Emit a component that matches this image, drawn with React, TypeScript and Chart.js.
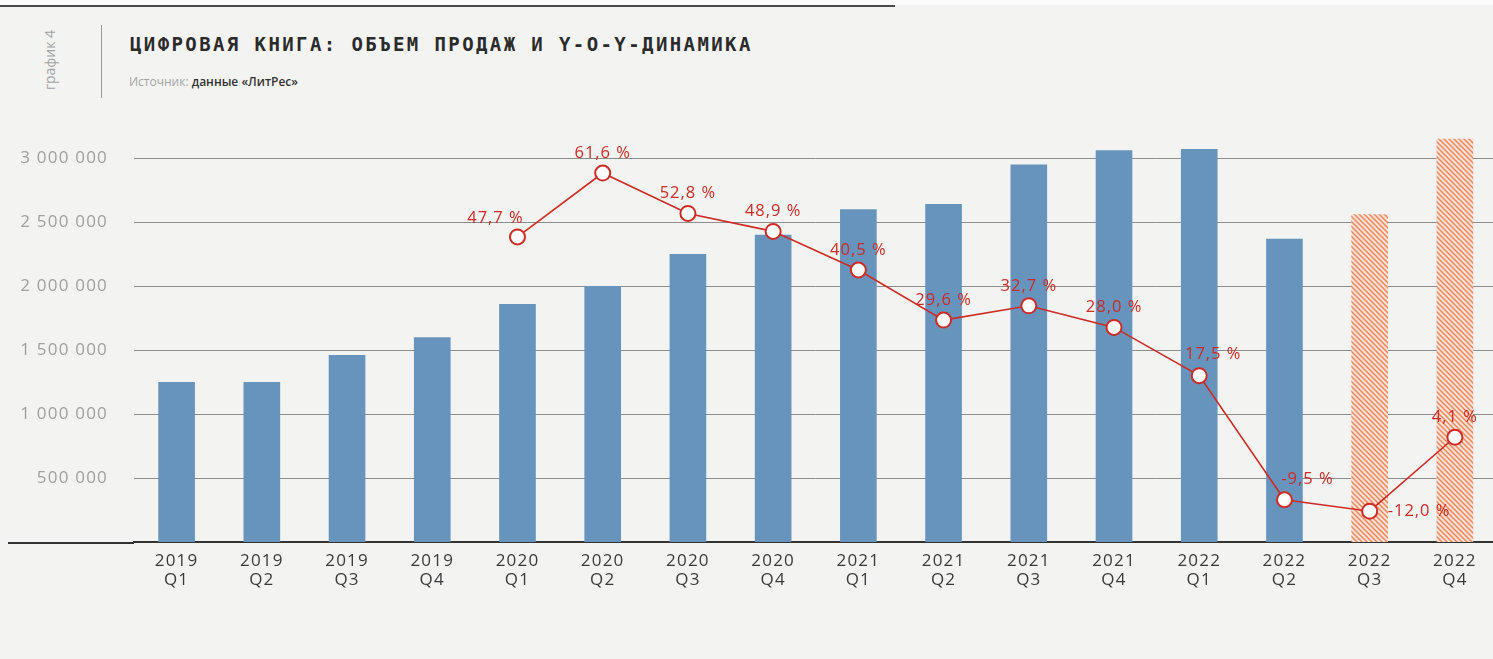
import React, { useEffect, useRef } from 'react';
import { Chart, registerables } from 'chart.js';

Chart.register(...registerables);

// ---- data ----
const years = ['2019', '2019', '2019', '2019', '2020', '2020', '2020', '2020', '2021', '2021', '2021', '2021', '2022', '2022', '2022', '2022'];
const quarters = ['Q1', 'Q2', 'Q3', 'Q4', 'Q1', 'Q2', 'Q3', 'Q4', 'Q1', 'Q2', 'Q3', 'Q4', 'Q1', 'Q2', 'Q3', 'Q4'];
const salesValues = [1250000, 1250000, 1460000, 1600000, 1860000, 2000000, 2250000, 2400000, 2600000, 2640000, 2950000, 3060000, 3070000, 2370000, 2560000, 3150000];
const yoyGrowth: (number | null)[] = [null, null, null, null, 47.7, 61.6, 52.8, 48.9, 40.5, 29.6, 32.7, 28.0, 17.5, -9.5, -12.0, 4.1];
const isForecast = [false, false, false, false, false, false, false, false, false, false, false, false, false, false, true, true];
const yTickValues = [500000, 1000000, 1500000, 2000000, 2500000, 3000000];
const yTickLabels = ['500 000', '1 000 000', '1 500 000', '2 000 000', '2 500 000', '3 000 000'];
const labelPlacement = ['', '', '', '', 'aboveLeft', 'above', 'above', 'above', 'above', 'above', 'above', 'above', 'aboveRight', 'aboveRightFar', 'right', 'above'];

const TITLE = 'ЦИФРОВАЯ КНИГА: ОБЪЕМ ПРОДАЖ И Y-O-Y-ДИНАМИКА';
const SOURCE_LABEL = 'Источник:';
const SOURCE_TEXT = 'данные «ЛитРес»';
const SIDE_LABEL = 'график 4';

const BLUE = '#6694bd';
const RED = '#cd2b24';

function makeHatch(): CanvasPattern | string {
  const c = document.createElement('canvas');
  c.width = 5;
  c.height = 5;
  const g = c.getContext('2d');
  if (!g) return '#f3b195';
  g.fillStyle = '#fae3d6';
  g.fillRect(0, 0, 5, 5);
  g.strokeStyle = '#ec875c';
  g.lineWidth = 1.5;
  g.beginPath();
  g.moveTo(-1, -1);
  g.lineTo(6, 6);
  g.moveTo(-1, 4);
  g.lineTo(1, 6);
  g.moveTo(4, -1);
  g.lineTo(6, 1);
  g.stroke();
  return g.createPattern(c, 'repeat') || '#f3b195';
}

function fmtPct(v: number): string {
  return v.toFixed(1).replace('.', ',') + ' %';
}

const axisSpacing = {
  id: 'axisSpacing',
  beforeDraw(chart: any) {
    (chart.ctx as any).letterSpacing = '1.2px';
  },
  beforeDatasetsDraw(chart: any) {
    (chart.ctx as any).letterSpacing = '0px';
  },
};

const pctLabels = {
  id: 'pctLabels',
  afterDatasetsDraw(chart: any) {
    const meta = chart.getDatasetMeta(0);
    const ctx = chart.ctx as CanvasRenderingContext2D;
    ctx.save();
    (ctx as any).letterSpacing = '1px';
    ctx.font = '16.5px "Open Sans"';
    ctx.fillStyle = RED;
    ctx.textBaseline = 'middle';
    meta.data.forEach((pt: any, i: number) => {
      const v = yoyGrowth[i];
      if (v == null) return;
      const place = labelPlacement[i];
      let dx = 0;
      let dy = -20;
      let align: CanvasTextAlign = 'center';
      if (place === 'aboveLeft') { dx = -22; dy = -19; }
      else if (place === 'aboveRight') { dx = 14; dy = -21; }
      else if (place === 'aboveRightFar') { dx = 23; dy = -20; }
      else if (place === 'right') { dx = 18; dy = 0; align = 'left'; }
      ctx.textAlign = align;
      ctx.fillText(fmtPct(v), pt.x + dx, pt.y + dy);
    });
    ctx.restore();
  },
};

const baselineExtend = {
  id: 'baselineExtend',
  afterDraw(chart: any) {
    const ctx = chart.ctx as CanvasRenderingContext2D;
    const a = chart.chartArea;
    ctx.save();
    ctx.strokeStyle = '#333';
    ctx.lineWidth = 2;
    ctx.beginPath();
    ctx.moveTo(8, a.bottom + 1);
    ctx.lineTo(a.left, a.bottom + 1);
    ctx.stroke();
    ctx.restore();
  },
};

function SalesChart() {
  const ref = useRef<HTMLCanvasElement | null>(null);
  useEffect(() => {
    if (!ref.current) return;
    const hatch = makeHatch();
    const chart = new Chart(ref.current, {
      type: 'bar',
      data: {
        labels: years.map((y, i) => [y, quarters[i]]),
        datasets: [
          {
            type: 'line',
            data: yoyGrowth,
            yAxisID: 'y1',
            borderColor: RED,
            borderWidth: 1.6,
            pointRadius: 7.5,
            pointBackgroundColor: '#ffffff',
            pointBorderColor: RED,
            pointBorderWidth: 2,
            spanGaps: false,
            order: 0,
          } as any,
          {
            type: 'bar',
            data: salesValues,
            yAxisID: 'y',
            backgroundColor: isForecast.map((f) => (f ? hatch : BLUE)) as any,
            borderWidth: 0,
            categoryPercentage: 1,
            barPercentage: 0.43,
            order: 1,
          } as any,
        ],
      },
      options: {
        responsive: false,
        animation: false,
        devicePixelRatio: 1,
        layout: { padding: { left: 0, right: 0, top: 94, bottom: 0 } },
        plugins: {
          legend: { display: false },
          tooltip: { enabled: false },
          title: { display: false },
        },
        scales: {
          x: {
            grid: { display: false, drawTicks: false },
            border: { display: true, color: '#333', width: 2 },
            ticks: {
              color: '#3a3a3a',
              font: { family: '"Open Sans"', size: 17, lineHeight: 1.1 },
              padding: 10,
              maxRotation: 0,
              autoSkip: false,
            },
            afterFit: (s: any) => { s.height = 659 - 542; },
          },
          y: {
            position: 'left',
            min: 0,
            max: 3500000,
            afterBuildTicks: (s: any) => { s.ticks = yTickValues.map((v) => ({ value: v })); },
            ticks: {
              color: '#a0a0a0',
              font: { family: '"Open Sans"', size: 17 },
              padding: 26,
              callback: (v: any) => {
                const k = yTickValues.indexOf(Number(v));
                return k >= 0 ? yTickLabels[k] : '';
              },
            },
            grid: { color: '#8d8d8d', lineWidth: 1, drawTicks: false },
            border: { display: false },
            afterFit: (s: any) => { s.width = 134; },
          },
          y1: {
            display: false,
            position: 'right',
            min: -18.7,
            max: 78.8,
          },
        },
      } as any,
      plugins: [axisSpacing, pctLabels, baselineExtend],
    });
    return () => chart.destroy();
  }, []);
  return (
    <canvas
      ref={ref}
      width={1507}
      height={659}
      style={{ position: 'absolute', left: 0, top: 0, width: 1507, height: 659 }}
    />
  );
}

export default function App() {
  return (
    <div
      style={{
        position: 'fixed',
        left: 0,
        top: 0,
        width: 1493,
        height: 659,
        overflow: 'hidden',
        background: '#f3f3f2',
      }}
    >
      <div style={{ position: 'absolute', left: 0, top: 5, width: 895, height: 2, background: '#4a4a4a' }} />
      <div style={{ position: 'absolute', left: 0, top: 0, width: 1493, height: 5, background: '#fbfbfb' }} />
      <div
        style={{
          position: 'absolute',
          left: 50,
          top: 60,
          transform: 'translate(-50%, -50%) rotate(-90deg)',
          fontFamily: '"Open Sans"',
          fontSize: 14,
          color: '#a3a3a3',
          whiteSpace: 'nowrap',
          lineHeight: '14px',
        }}
      >
        {SIDE_LABEL}
      </div>
      <div style={{ position: 'absolute', left: 101, top: 25, width: 1, height: 73, background: '#9a9a9a' }} />
      <div
        style={{
          position: 'absolute',
          left: 130,
          top: 35,
          fontFamily: '"DejaVu Sans Mono"',
          fontWeight: 'bold',
          fontSize: 19,
          lineHeight: '19px',
          letterSpacing: '2.4px',
          color: '#2b2b2b',
          whiteSpace: 'nowrap',
        }}
      >
        {TITLE}
      </div>
      <div
        style={{
          position: 'absolute',
          left: 129,
          top: 75,
          fontFamily: '"Open Sans"',
          fontSize: 12,
          lineHeight: '14px',
          whiteSpace: 'nowrap',
        }}
      >
        <span style={{ color: '#a5a5a5' }}>{SOURCE_LABEL} </span>
        <span style={{ color: '#333', fontWeight: 600 }}>{SOURCE_TEXT}</span>
      </div>
      <SalesChart />
    </div>
  );
}
